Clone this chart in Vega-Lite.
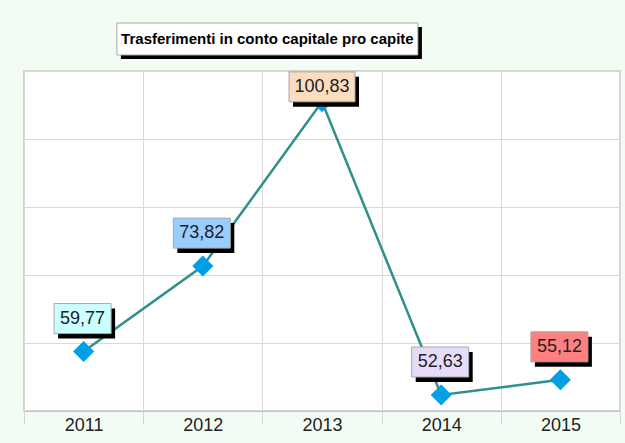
{
  "$schema": "https://vega.github.io/schema/vega-lite/v6.json",
  "autosize": {"type": "none"},
  "width": 596,
  "height": 340,
  "padding": {"left": 24, "top": 71, "right": 5, "bottom": 32},
  "background": "#f2fcf2",
  "config": {
    "view": {"fill": "#ffffff", "stroke": "#c4c4c4", "strokeWidth": 1.5},
    "font": "Liberation Sans"
  },
  "data": {
    "values": [
      {"year": "2011", "value": 59.77, "label": "59,77"},
      {"year": "2012", "value": 73.82, "label": "73,82"},
      {"year": "2013", "value": 100.83, "label": "100,83"},
      {"year": "2014", "value": 52.63, "label": "52,63"},
      {"year": "2015", "value": 55.12, "label": "55,12"}
    ]
  },
  "encoding": {
    "x": {
      "field": "year",
      "type": "ordinal",
      "scale": {"type": "band", "paddingInner": 0, "paddingOuter": 0},
      "axis": {
        "title": null,
        "labelAngle": 0,
        "labelFont": "Liberation Sans",
        "labelFontSize": 18,
        "labelColor": "#222222",
        "labelBaseline": "middle",
        "labelPadding": 1,
        "tickBand": "extent",
        "ticks": true,
        "tickSize": 13,
        "tickColor": "#d4d4d4",
        "domainColor": "#c4c4c4",
        "grid": true,
        "gridColor": "#d9d9d9",
        "gridWidth": 1
      }
    },
    "y": {
      "field": "value",
      "type": "quantitative",
      "scale": {"domain": [50, 105.9], "nice": false, "zero": false},
      "axis": {
        "title": null,
        "labels": false,
        "ticks": false,
        "domain": false,
        "grid": true,
        "gridColor": "#d9d9d9",
        "values": [50, 61.18, 72.36, 83.54, 94.72, 105.9]
      }
    }
  },
  "layer": [
    {
      "mark": {"type": "line", "color": "#2e9088", "strokeWidth": 2.5},
      "encoding": {"x": {"field": "year", "type": "ordinal", "bandPosition": 0.5}}
    },
    {
      "mark": {"type": "point", "shape": "diamond", "filled": true, "size": 441, "color": "#009fe6", "opacity": 1},
      "encoding": {"x": {"field": "year", "type": "ordinal", "bandPosition": 0.5}}
    },
    {
      "transform": [{"filter": "datum.year != '2013'"}],
      "mark": {"type": "point", "shape": "M-1,-0.5263H1V0.5263H-1Z", "size": 3249, "filled": true, "color": "#000000", "opacity": 1, "xOffset": 3, "yOffset": -28},
      "encoding": {"x": {"field": "year", "type": "ordinal", "bandPosition": 0.5}}
    },
    {
      "transform": [{"filter": "datum.year != '2013'"}],
      "mark": {"type": "point", "shape": "M-1,-0.5263H1V0.5263H-1Z", "size": 3249, "filled": true, "opacity": 1, "stroke": "#a8a8a8", "strokeWidth": 1, "xOffset": -1, "yOffset": -33},
      "encoding": {
        "x": {"field": "year", "type": "ordinal", "bandPosition": 0.5},
        "fill": {
          "field": "year",
          "type": "nominal",
          "scale": {"domain": ["2011", "2012", "2013", "2014", "2015"], "range": ["#ccffff", "#99ccff", "#fcdcbf", "#e6dcfa", "#ff8080"]},
          "legend": null
        }
      }
    },
    {
      "transform": [{"filter": "datum.year == '2013'"}],
      "mark": {"type": "point", "shape": "M-1,-0.4545H1V0.4545H-1Z", "size": 4356, "filled": true, "color": "#000000", "opacity": 1, "xOffset": 4, "yOffset": -10},
      "encoding": {"x": {"field": "year", "type": "ordinal", "bandPosition": 0.5}}
    },
    {
      "transform": [{"filter": "datum.year == '2013'"}],
      "mark": {"type": "point", "shape": "M-1,-0.4545H1V0.4545H-1Z", "size": 4356, "filled": true, "opacity": 1, "stroke": "#a8a8a8", "strokeWidth": 1, "xOffset": 0, "yOffset": -15},
      "encoding": {
        "x": {"field": "year", "type": "ordinal", "bandPosition": 0.5},
        "fill": {
          "field": "year",
          "type": "nominal",
          "scale": {"domain": ["2011", "2012", "2013", "2014", "2015"], "range": ["#ccffff", "#99ccff", "#fcdcbf", "#e6dcfa", "#ff8080"]},
          "legend": null
        }
      }
    },
    {
      "transform": [{"filter": "datum.year != '2013'"}],
      "mark": {"type": "text", "font": "Liberation Sans", "fontSize": 18, "color": "#222222", "baseline": "middle", "align": "center", "xOffset": -1, "yOffset": -33},
      "encoding": {"x": {"field": "year", "type": "ordinal", "bandPosition": 0.5}, "text": {"field": "label"}}
    },
    {
      "transform": [{"filter": "datum.year == '2013'"}],
      "mark": {"type": "text", "font": "Liberation Sans", "fontSize": 18, "color": "#222222", "baseline": "middle", "align": "center", "xOffset": 0, "yOffset": -15},
      "encoding": {"x": {"field": "year", "type": "ordinal", "bandPosition": 0.5}, "text": {"field": "label"}}
    },
    {
      "transform": [{"filter": "datum.year == '2012'"}],
      "mark": {"type": "point", "shape": "M-1,-0.1063H1V0.1063H-1Z", "size": 90601, "filled": true, "color": "#000000", "opacity": 1, "xOffset": 9, "yOffset": -28, "clip": false},
      "encoding": {
        "x": {"field": "year", "type": "ordinal", "bandPosition": 1},
        "y": {"datum": 105.9, "type": "quantitative"}
      }
    },
    {
      "transform": [{"filter": "datum.year == '2012'"}],
      "mark": {"type": "point", "shape": "M-1,-0.1063H1V0.1063H-1Z", "size": 90601, "filled": true, "color": "#ffffff", "opacity": 1, "stroke": "#a8a8a8", "strokeWidth": 1, "xOffset": 5, "yOffset": -32, "clip": false},
      "encoding": {
        "x": {"field": "year", "type": "ordinal", "bandPosition": 1},
        "y": {"datum": 105.9, "type": "quantitative"}
      }
    },
    {
      "transform": [{"filter": "datum.year == '2012'"}],
      "mark": {"type": "text", "text": "Trasferimenti in conto capitale pro capite", "font": "Liberation Sans", "fontSize": 15, "fontWeight": "bold", "color": "#000000", "baseline": "middle", "align": "center", "xOffset": 5, "yOffset": -32, "clip": false},
      "encoding": {
        "x": {"field": "year", "type": "ordinal", "bandPosition": 1},
        "y": {"datum": 105.9, "type": "quantitative"}
      }
    }
  ]
}
